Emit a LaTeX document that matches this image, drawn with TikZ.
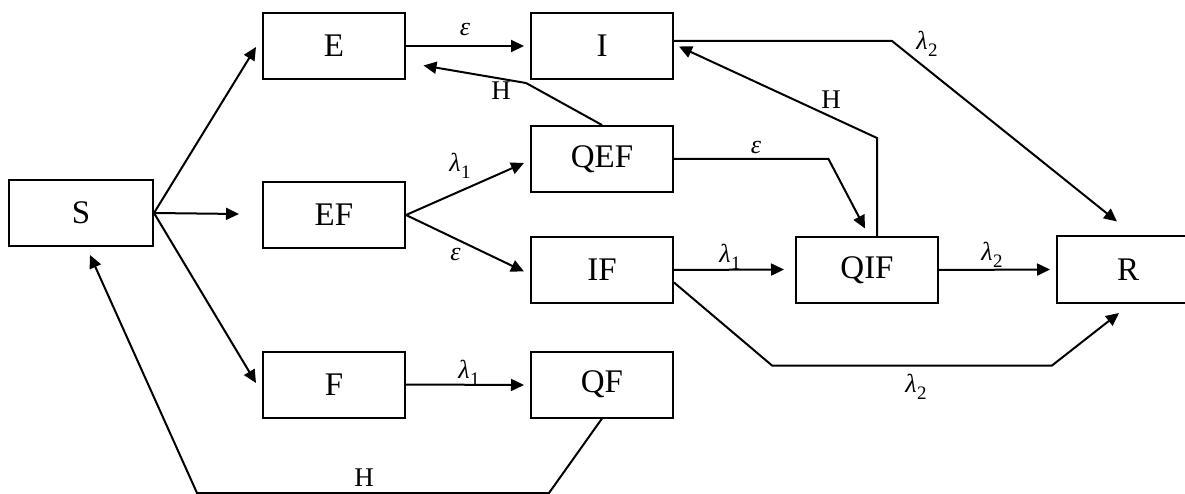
\documentclass[tikz,border=0pt]{standalone}
\usepackage{fontspec}
\setmainfont{Liberation Serif}
\usetikzlibrary{arrows.meta}
\newcommand{\glam}[1]{\textit{λ}\kern0.5pt\raisebox{-0.25em}{\fontsize{19}{20}\selectfont #1}}
\newcommand{\geps}{\textit{ε}}
\begin{document}
\begin{tikzpicture}[x=1pt,y=-1pt,
  box/.style={draw,line width=2pt,minimum width=142pt,minimum height=66pt,inner sep=0pt,font=\fontsize{33}{36}\selectfont},
  arr/.style={line width=2pt,-{Triangle[length=13pt,width=12pt]}},
  lab/.style={inner sep=0pt,font=\fontsize{26}{30}\selectfont},
  hlab/.style={inner sep=0pt,font=\fontsize{27}{30}\selectfont}]
\useasboundingbox (0,0) rectangle (1185,494);
% nodes
\node[box,minimum width=144pt] (S) at (81,213) {S};
\node[box] (E) at (334,46) {E};
\node[box] (EF) at (334,215) {EF};
\node[box] (F) at (334,384.5) {F};
\node[box] (I) at (602,46) {I};
\node[box] (QEF) at (602,159) {QEF};
\node[box] (IF) at (602,270) {IF};
\node[box] (QF) at (602,384.5) {QF};
\node[box] (QIF) at (867,270) {QIF};
\node[box] (R) at (1128,269.5) {R};
% free ends and bends
\coordinate (tE) at (256,47);
\coordinate (tEF) at (239,214);
\coordinate (tF) at (256,383);
\coordinate (tI) at (524,46);
\coordinate (tQEF) at (524,163);
\coordinate (tIF) at (524,271.5);
\coordinate (tQF) at (524,385);
\coordinate (tQIF) at (784,269.5);
\coordinate (tR) at (1050,269.5);
\coordinate (b1) at (892,41);
\coordinate (tR1) at (1117,221.5);
\coordinate (b2) at (877,138);
\coordinate (tI2) at (679,46.5);
\coordinate (b3) at (526,83);
\coordinate (tE2) at (423.5,65.5);
\coordinate (b4) at (828.5,159);
\coordinate (tQIF2) at (865,228.5);
\coordinate (b5) at (772,365.5);
\coordinate (b6) at (1052,365.5);
\coordinate (tR2) at (1119,313);
\coordinate (b7) at (549,493);
\coordinate (b8) at (197,493);
\coordinate (tS) at (90,255);
% connectors
\draw[arr] (S.east) -- (tE);
\draw[arr] (S.east) -- (tEF);
\draw[arr] (S.east) -- (tF);
\draw[arr] (E.east) -- (tI);
\draw[arr] (EF.east) -- (tQEF);
\draw[arr] (EF.east) -- (tIF);
\draw[arr] (F.east) -- (tQF);
\draw[arr] (IF.east) -- (tQIF);
\draw[arr] (QIF.east) -- (tR);
\draw[arr] ([yshift=5pt]I.east) -- (b1) -- (tR1);
\draw[arr] ([xshift=10pt]QIF.north) -- (b2) -- (tI2);
\draw[arr] (QEF.north) -- (b3) -- (tE2);
\draw[arr] (QEF.east) -- (b4) -- (tQIF2);
\draw[arr] ([yshift=-12.5pt]IF.east) -- (b5) -- (b6) -- (tR2);
\draw[arr] (QF.south) -- (b7) -- (b8) -- (tS);
% labels
\node[lab] (l1) at (465,30) {\geps};
\node[hlab] (l2) at (501,91) {H};
\node[lab] (l3) at (460,166) {\glam{1}};
\node[lab] (l4) at (455.5,255) {\geps};
\node[lab] (l5) at (927,44) {\glam{2}};
\node[hlab] (l6) at (831,100) {H};
\node[lab] (l7) at (756,148) {\geps};
\node[lab] (l8) at (730,257) {\glam{1}};
\node[lab] (l9) at (992,255) {\glam{2}};
\node[lab] (l10) at (916,387) {\glam{2}};
\node[lab] (l11) at (469,373) {\glam{1}};
\node[hlab] (l12) at (364,478) {H};
\end{tikzpicture}
\end{document}
